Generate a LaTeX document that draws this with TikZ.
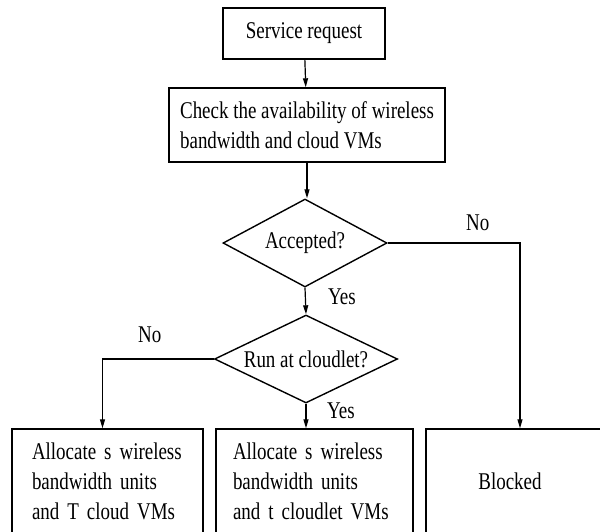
\documentclass[tikz,border=0pt]{standalone}
\usepackage{fontspec}
\setmainfont[FakeStretch=0.79]{Liberation Serif}
\usepackage{tikz}
\usetikzlibrary{arrows.meta,shapes.geometric}

\begin{document}
\begin{tikzpicture}[x=1pt, y=-1pt,
        font=\fontsize{24}{30}\selectfont,
        box/.style={draw, line width=1.4pt, rectangle, inner sep=0pt},
        decision/.style={draw, line width=1.4pt, diamond, shape aspect=2, inner sep=0pt},
        arrow/.style={line width=1.2pt, -{Triangle[length=9pt,width=5pt]}},
        lab/.style={inner sep=0pt, anchor=base west}]
    % Marco de la figura
    \useasboundingbox (0,0) rectangle (600,531);
    \clip (0,0) rectangle (600,531);

    % Cajas de arriba
    \node[box, minimum width=162pt, minimum height=51pt] (req) at (304,33.5) {Service request};
    \node[box, minimum width=276pt, minimum height=74pt, align=left] (chk) at (307,125)
        {Check the availability of wireless\\ bandwidth and cloud VMs};

    % Decisiones
    \node[decision, minimum width=164pt, minimum height=88pt] (acc) at (305,243) {Accepted?};
    \node[decision, minimum width=183pt, minimum height=88pt] (run) at (306,359) {Run at cloudlet?};

    % Cajas de abajo (cortadas por el borde)
    \node[box, minimum height=104pt, inner xsep=20pt, text width=151pt, align=left] (cld) at (107.5,481)
        {Allocate s wireless\\ bandwidth units\\ and T cloud VMs};
    \node[box, minimum height=104pt, inner xsep=17pt, text width=163pt, align=left] (let) at (314.5,481)
        {Allocate s wireless\\ bandwidth units\\ and t cloudlet VMs};
    \node[box, minimum width=188pt, minimum height=104pt,
          label={[xshift=-10pt]center:Blocked}] (blk) at (520,481) {};

    % Flechas
    \draw[arrow] (req) -- (chk);
    \draw[arrow] (chk.south) -- (chk.south |- acc.north);
    \draw[arrow] (acc.south) -- (run.north);
    \draw[arrow] (acc.east) -| (blk.north);
    \draw[arrow] (run.west) -| ([xshift=-5pt]cld.north);
    \draw[arrow] (run.south) -- (run.south |- let.north);

    % Etiquetas
    \node[lab] (yesA) at (328,304) {Yes};
    \node[lab] (noA) at (466,230) {No};
    \node[lab] (yesB) at (327,418) {Yes};
    \node[lab] (noB) at (138,342) {No};
\end{tikzpicture}
\end{document}
